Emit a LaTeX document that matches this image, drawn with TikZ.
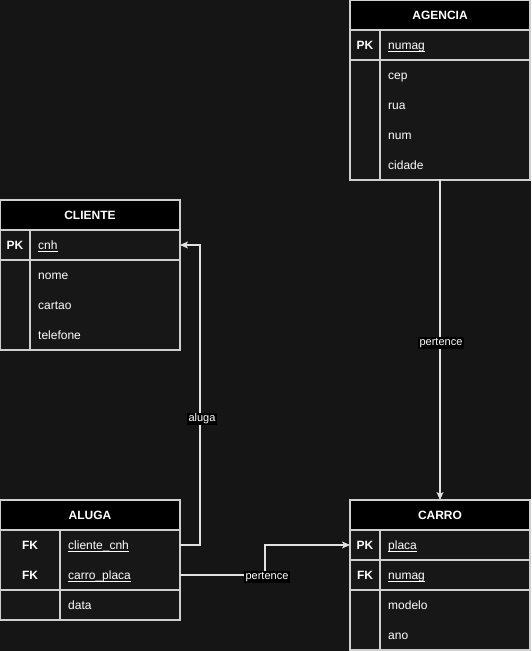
\documentclass[tikz,border=0pt]{standalone}
\usepackage{fontspec}
\setmainfont{Liberation Sans}
\usetikzlibrary{arrows.meta}
\definecolor{bg}{HTML}{151515}
\definecolor{body}{HTML}{171717}
\definecolor{stroke}{HTML}{CFCFCF}
\definecolor{wire}{HTML}{E2E2E2}
\newcommand\keyname[1]{\underline{\smash{#1}}}
\tikzset{
  tbl/.style={draw=stroke, fill=body, line width=1.1pt, anchor=north west,
    minimum width=180, inner sep=0, outer sep=0},
  head/.style={draw=stroke, fill=black, line width=1.1pt, anchor=north west,
    minimum width=180, minimum height=30, inner sep=0, outer sep=0,
    text=white, font=\bfseries\fontsize{12}{14}\selectfont},
  rule/.style={draw=stroke, line width=1.1pt},
  rowbox/.style={anchor=north west, minimum width=180, minimum height=30,
    inner sep=0, outer sep=0},
  keytxt/.style={text=white, font=\bfseries\fontsize{12}{14}\selectfont,
    inner sep=0, text height=8.6pt, text depth=0pt},
  fld/.style={anchor=west, text=white, font=\fontsize{12}{14}\selectfont,
    inner sep=0, text height=8.6pt, text depth=0pt},
  edge/.style={draw=wire, line width=1.1pt,
    -{Stealth[length=8pt,width=7pt,inset=2pt]}},
  lbl/.style={fill=black, text=white, font=\fontsize{11}{13}\selectfont,
    inner sep=1.2pt}
}
\begin{document}
\begin{tikzpicture}[x=1pt,y=-1pt]
\fill[bg] (0,0) rectangle (531,651);
\useasboundingbox (0,0) rectangle (531,651);

% ---------- CLIENTE ----------
\node[tbl, minimum height=150] (cliente) at (0,200) {};
\node[head] (cliente-h) at (0,200) {CLIENTE};
\draw[rule] (0,260) -- (180,260) (30,230) -- (30,350);
\node[rowbox] (cli-cnh) at (0,230) {};
\node[keytxt] (cli-k1) at (15,245) {PK};
\node[fld] (cli-f1) at (38,245) {\keyname{cnh}};
\node[fld] (cli-f2) at (38,275) {nome};
\node[fld] (cli-f3) at (38,305) {cartao};
\node[fld] (cli-f4) at (38,335) {telefone};

% ---------- AGENCIA ----------
\node[tbl, minimum height=180] (agencia) at (350,0) {};
\node[head] (agencia-h) at (350,0) {AGENCIA};
\draw[rule] (350,60) -- (530,60) (380,30) -- (380,180);
\node[keytxt] (ag-k1) at (365,45) {PK};
\node[fld] (ag-f1) at (388,45) {\keyname{numag}};
\node[fld] (ag-f2) at (388,75) {cep};
\node[fld] (ag-f3) at (388,105) {rua};
\node[fld] (ag-f4) at (388,135) {num};
\node[fld] (ag-f5) at (388,165) {cidade};

% ---------- ALUGA ----------
\node[tbl, minimum height=120] (aluga) at (0,500) {};
\node[head] (aluga-h) at (0,500) {ALUGA};
\draw[rule] (0,590) -- (180,590) (60,530) -- (60,620);
\node[rowbox] (alu-cnh) at (0,530) {};
\node[rowbox] (alu-placa) at (0,560) {};
\node[keytxt] (alu-k1) at (30,545) {FK};
\node[keytxt] (alu-k2) at (30,575) {FK};
\node[fld] (alu-f1) at (68,545) {\keyname{cliente\_cnh}};
\node[fld] (alu-f2) at (68,575) {\keyname{carro\_placa}};
\node[fld] (alu-f3) at (68,605) {data};

% ---------- CARRO ----------
\node[tbl, minimum height=150] (carro) at (350,500) {};
\node[head] (carro-h) at (350,500) {CARRO};
\draw[rule] (350,560) -- (530,560) (350,590) -- (530,590) (380,530) -- (380,650);
\node[rowbox] (car-placa) at (350,530) {};
\node[keytxt] (car-k1) at (365,545) {PK};
\node[keytxt] (car-k2) at (365,575) {FK};
\node[fld] (car-f1) at (388,545) {\keyname{placa}};
\node[fld] (car-f2) at (388,575) {\keyname{numag}};
\node[fld] (car-f3) at (388,605) {modelo};
\node[fld] (car-f4) at (388,635) {ano};

% ---------- relationships ----------
\draw[edge] (alu-cnh.east) -- ++(20,0) |- node[lbl, pos=0.21, xshift=2pt] {aluga} (cli-cnh.east);
\draw[edge] (agencia.south) -- node[lbl, pos=0.51, xshift=1pt] {pertence} (carro-h.north);
\draw[edge] (alu-placa.east) -- node[lbl, pos=1, xshift=2pt, yshift=-2pt] {pertence} ++(85,0) |- (car-placa.west);
\end{tikzpicture}
\end{document}
